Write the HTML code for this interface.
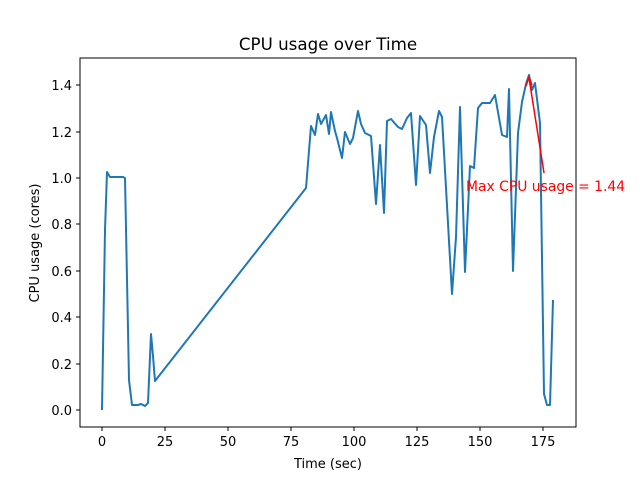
<!DOCTYPE html>
<html><head><style>body{margin:0;background:#fff}</style></head><body>
<svg width="640" height="480" xmlns="http://www.w3.org/2000/svg" font-family="DejaVu Sans, sans-serif">
<rect width="640" height="480" fill="#fff"/>
<text x="328" y="50" font-size="16.7" text-anchor="middle">CPU usage over Time</text>
<polyline fill="none" stroke="#1f77b4" stroke-width="2" stroke-linejoin="round" points="102,410 105,230 107,172 110,177 115,177 120,177 123,177 125,178 129,380 132,405 138,405 141,404 145,406 148,403 151,334 153,356 155,381 306,188 311,126 315,135 318,114 321,124 326,115 329,134 331,112 335,131 337,138 342,158 345,132 350,144 353,138 358,111 361,124 365,133 371,136 376,204 380,145 384,213 387,121 391,119 398,127 402,129 407,118 411,113 416,185 420,116 426,125 430,173 434,137 439,111 442,117 452,294 456,237 460,107 465,272 470,166 474,168 478,108 482,103 490,103 495,95 502,135 507,137 509,89 513,271 518,133 522,102 526,84 529,75 532,90 535,83 540,123 544,394 547,405 550,405 553,300"/>
<line x1="544" y1="173" x2="529" y2="78" stroke="red" stroke-width="1.5"/>
<polyline points="526,86 529,77 532,85" fill="none" stroke="red" stroke-width="1.5"/>
<text x="466" y="191" font-size="13.9" fill="red">Max CPU usage = 1.44</text>
<rect x="80" y="58" width="496" height="369" fill="none" stroke="#000" stroke-width="1"/>
<g stroke="#000">
<line x1="102" y1="427" x2="102" y2="431"/><line x1="165" y1="427" x2="165" y2="431"/><line x1="228" y1="427" x2="228" y2="431"/><line x1="291" y1="427" x2="291" y2="431"/><line x1="354" y1="427" x2="354" y2="431"/><line x1="417" y1="427" x2="417" y2="431"/><line x1="480" y1="427" x2="480" y2="431"/><line x1="543" y1="427" x2="543" y2="431"/>
<line x1="76" y1="410" x2="80" y2="410"/><line x1="76" y1="364" x2="80" y2="364"/><line x1="76" y1="317" x2="80" y2="317"/><line x1="76" y1="271" x2="80" y2="271"/><line x1="76" y1="224" x2="80" y2="224"/><line x1="76" y1="178" x2="80" y2="178"/><line x1="76" y1="132" x2="80" y2="132"/><line x1="76" y1="85" x2="80" y2="85"/>
</g>
<g font-size="13" text-anchor="middle">
<text x="102" y="446">0</text><text x="165" y="446">25</text><text x="228" y="446">50</text><text x="291" y="446">75</text><text x="354" y="446">100</text><text x="417" y="446">125</text><text x="480" y="446">150</text><text x="543" y="446">175</text>
<text x="328" y="468">Time (sec)</text>
</g>
<g font-size="13" text-anchor="end">
<text x="72" y="415">0.0</text><text x="72" y="369">0.2</text><text x="72" y="322">0.4</text><text x="72" y="276">0.6</text><text x="72" y="229">0.8</text><text x="72" y="183">1.0</text><text x="72" y="137">1.2</text><text x="72" y="90">1.4</text>
</g>
<text transform="translate(39,243) rotate(-90)" font-size="13" text-anchor="middle">CPU usage (cores)</text>
</svg>
</body></html>
